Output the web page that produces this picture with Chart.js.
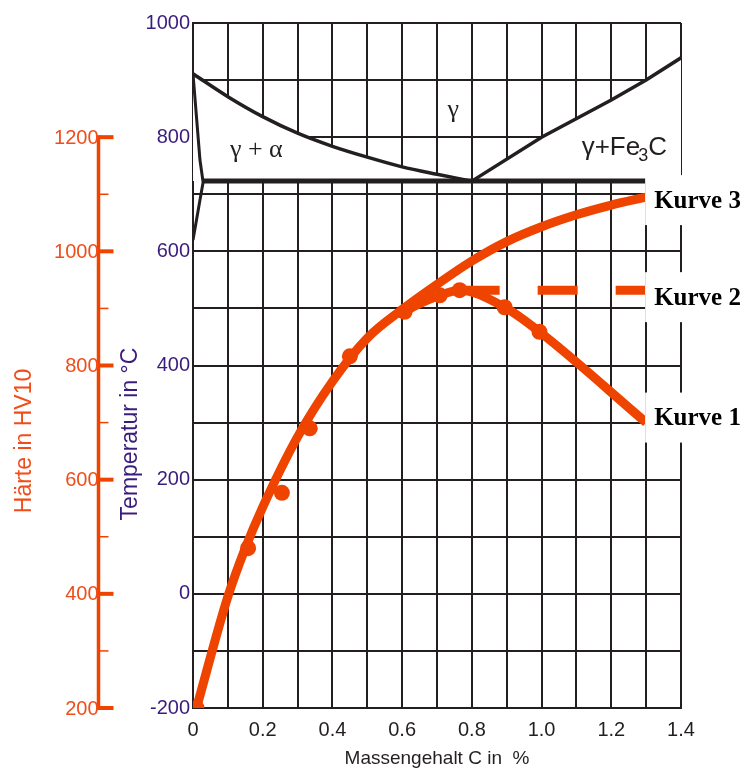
<!DOCTYPE html>
<html>
<head>
<meta charset="utf-8">
<script src="https://cdn.jsdelivr.net/npm/chart.js@4.4.1/dist/chart.umd.min.js"></script>
<style>
  html, body { margin: 0; padding: 0; background: #fff; }
  canvas { display: block; }
</style>
</head>
<body>
<canvas id="chart" width="747" height="771"></canvas>
<script>
// axes
const xTicks = [0, 0.1, 0.2, 0.3, 0.4, 0.5, 0.6, 0.7, 0.8, 0.9, 1.0, 1.1, 1.2, 1.3, 1.4];
const xLabels = ['0', '', '0.2', '', '0.4', '', '0.6', '', '0.8', '', '1.0', '', '1.2', '', '1.4'];
const tempTicks = [-200, -100, 0, 100, 200, 300, 400, 500, 600, 700, 800, 900, 1000];
const tempLabels = ['-200', '', '0', '', '200', '', '400', '', '600', '', '800', '', '1000'];
const hvTicks = [200, 300, 400, 500, 600, 700, 800, 900, 1000, 1100, 1200];
const hvLabels = ['200', '', '400', '', '600', '', '800', '', '1000', '', '1200'];

// Fe-C diagram lines, temperature in °C
const gsX = [0, 0.1, 0.2, 0.3, 0.4, 0.5, 0.6, 0.7, 0.8];
const gsT = [911, 871, 836, 807, 784, 765, 748, 735, 723];
const seX = [0.8, 1.0, 1.2, 1.3, 1.4];
const seT = [723, 800, 865, 900, 939];
const gpX = [0, 0.02, 0.029, 0.02, 0];
const gpT = [911, 760, 721, 690, 620];
const a1X = [0.03, 1.3];
const a1T = [723, 723];

// hardness HV10
const k1X = [0.01, 0.158, 0.255, 0.335, 0.45, 0.607, 0.708, 0.765, 0.894, 0.994, 1.3];
const k1HV = [200, 480, 577, 690, 816, 894, 923, 932, 902, 859, 700];
const k2X = [0.765, 1.3];
const k2HV = [932, 932];
const k3X = [0.01, 0.1, 0.15, 0.2, 0.3, 0.4, 0.5, 0.6, 0.7, 0.8, 0.9, 1.0, 1.1, 1.2, 1.3];
const k3HV = [200, 395, 480, 552, 675, 772, 848, 898, 942, 983, 1017, 1043, 1064, 1081, 1095];

const sans = "'Liberation Sans', Arial, sans-serif";
const serif = "'Liberation Serif', 'Times New Roman', serif";
const ink = '#231f20';
const orange = '#ef4300';
const orangeText = '#f04d1a';
const purple = '#3a1c7c';

const pts = (xs, ys) => xs.map((v, i) => ({ x: v, y: ys[i] }));

const deco = {
  id: 'deco',
  afterDatasetsDraw(chart) {
    const { ctx, scales: { x, yT, yH } } = chart;
    ctx.save();

    // label boxes for the curves
    const x0 = x.getPixelForValue(1.3) - 1;
    const ends = [[k3HV, 3, 'Kurve 3'], [k2HV, 7, 'Kurve 2'], [k1HV, -5, 'Kurve 1']];
    ctx.font = 'bold 25px ' + serif;
    ctx.textBaseline = 'middle';
    ctx.textAlign = 'left';
    ends.forEach(([arr, off, txt]) => {
      const yc = yH.getPixelForValue(arr[arr.length - 1]) + off;
      ctx.fillStyle = '#fff';
      ctx.fillRect(x0, yc - 25, chart.width - x0, 50);
      ctx.fillStyle = '#000';
      ctx.fillText(txt, x0 + 9, yc + 1);
    });

    // phase fields
    ctx.fillStyle = ink;
    ctx.textBaseline = 'alphabetic';
    ctx.font = '26px ' + serif;
    ctx.fillText('\u03b3 + \u03b1', x.getPixelForValue(0.106), yT.getPixelForValue(765));
    ctx.fillText('\u03b3', x.getPixelForValue(0.73), yT.getPixelForValue(835));

    let px = x.getPixelForValue(1.115);
    const py = yT.getPixelForValue(769);
    ctx.font = '26px ' + sans;
    ctx.fillText('\u03b3+Fe', px, py);
    px += ctx.measureText('\u03b3+Fe').width - 2;
    ctx.font = '18px ' + sans;
    ctx.fillText('3', px, py + 6);
    px += ctx.measureText('3').width;
    ctx.font = '26px ' + sans;
    ctx.fillText('C', px, py);
    ctx.restore();
  },
  afterDraw(chart) {
    const { ctx, chartArea: a, scales: { yH } } = chart;
    ctx.save();
    // hardness axis
    const ax = a.left - 94.5;
    ctx.strokeStyle = orange;
    ctx.lineWidth = 3.5;
    ctx.beginPath();
    ctx.moveTo(ax, yH.getPixelForValue(hvTicks[0]) + 2);
    ctx.lineTo(ax, yH.getPixelForValue(hvTicks[hvTicks.length - 1]) - 2);
    ctx.stroke();
    ctx.fillStyle = orangeText;
    ctx.font = '20px ' + sans;
    ctx.textAlign = 'right';
    ctx.textBaseline = 'middle';
    hvTicks.forEach((v, i) => {
      const yy = yH.getPixelForValue(v);
      const major = hvLabels[i] !== '';
      ctx.lineWidth = major ? 4 : 1.5;
      ctx.beginPath();
      ctx.moveTo(ax, yy);
      ctx.lineTo(ax + (major ? 15 : 10), yy);
      ctx.stroke();
      if (major) ctx.fillText(hvLabels[i], ax, yy + 1);
    });

    // vertical axis titles
    ctx.textAlign = 'center';
    ctx.font = '23px ' + sans;
    ctx.translate(a.left - 168, a.top + 418);
    ctx.rotate(-Math.PI / 2);
    ctx.fillStyle = orangeText;
    ctx.fillText('H\u00e4rte in HV10', 0, 0);
    ctx.rotate(Math.PI / 2);
    ctx.translate(106, -7);
    ctx.rotate(-Math.PI / 2);
    ctx.fillStyle = purple;
    ctx.fillText('Temperatur in \u00b0C', 0, 0);
    ctx.restore();
  }
};

new Chart(document.getElementById('chart'), {
  type: 'line',
  data: {
    datasets: [
      {
        label: 'Kurve 2',
        data: pts(k2X, k2HV),
        yAxisID: 'yH',
        borderColor: orange,
        borderWidth: 9,
        borderDash: [40, 38],
        pointRadius: 0
      },
      {
        label: 'Kurve 1',
        data: pts(k1X, k1HV),
        yAxisID: 'yH',
        borderColor: orange,
        borderWidth: 9,
        cubicInterpolationMode: 'monotone',
        pointRadius: ctx => (ctx.dataIndex === k1X.length - 1 ? 0 : 8),
        pointBackgroundColor: orange,
        pointBorderWidth: 0,
        segment: {
          borderColor: ctx => (ctx.p0DataIndex < 5 ? 'rgba(0,0,0,0)' : undefined)
        }
      },
      {
        label: 'Kurve 3',
        data: pts(k3X, k3HV),
        yAxisID: 'yH',
        borderColor: orange,
        borderWidth: 9,
        cubicInterpolationMode: 'monotone',
        pointRadius: 0
      },
      {
        label: 'A1',
        data: pts(a1X, a1T),
        yAxisID: 'yT',
        borderColor: ink,
        borderWidth: 5,
        pointRadius: 0
      },
      {
        label: 'GP',
        data: pts(gpX, gpT),
        yAxisID: 'yT',
        borderColor: ink,
        borderWidth: 3,
        pointRadius: 0,
        tension: 0
      },
      {
        label: 'GS',
        data: pts(gsX, gsT),
        yAxisID: 'yT',
        borderColor: ink,
        borderWidth: 3.5,
        backgroundColor: '#fff',
        fill: { value: 723 },
        cubicInterpolationMode: 'monotone',
        pointRadius: 0
      },
      {
        label: 'SE',
        data: pts(seX, seT),
        yAxisID: 'yT',
        borderColor: ink,
        borderWidth: 3.5,
        backgroundColor: '#fff',
        fill: { value: 723 },
        pointRadius: 0
      }
    ]
  },
  options: {
    responsive: false,
    animation: false,
    events: [],
    layout: { padding: { left: 0, top: 23, right: 66, bottom: 0 } },
    plugins: {
      legend: { display: false },
      tooltip: { enabled: false }
    },
    scales: {
      x: {
        type: 'linear',
        min: 0,
        max: 1.4,
        afterBuildTicks: s => { s.ticks = xTicks.map(v => ({ value: v })); },
        afterFit: s => { s.height = 63; },
        ticks: {
          callback: (v, i) => xLabels[i],
          autoSkip: false,
          maxRotation: 0,
          color: ink,
          padding: 10,
          font: { family: sans, size: 20 }
        },
        grid: { color: ink, lineWidth: 2, drawTicks: false },
        border: { color: ink, width: 2 },
        title: {
          display: true,
          text: 'Massengehalt C in  %',
          color: ink,
          font: { family: sans, size: 19 },
          padding: { top: 0, bottom: 1 }
        }
      },
      yT: {
        type: 'linear',
        position: 'left',
        min: -200,
        max: 1000,
        afterBuildTicks: s => { s.ticks = tempTicks.map(v => ({ value: v })); },
        afterFit: s => { s.width = 193; },
        ticks: {
          callback: (v, i) => tempLabels[i],
          autoSkip: false,
          color: purple,
          padding: 3,
          font: { family: sans, size: 20 }
        },
        grid: { color: ink, lineWidth: 2, drawTicks: false },
        border: { color: ink, width: 2 }
      },
      yH: {
        type: 'linear',
        display: false,
        min: 200,
        max: 1400
      }
    }
  },
  plugins: [deco]
});
</script>
</body>
</html>
